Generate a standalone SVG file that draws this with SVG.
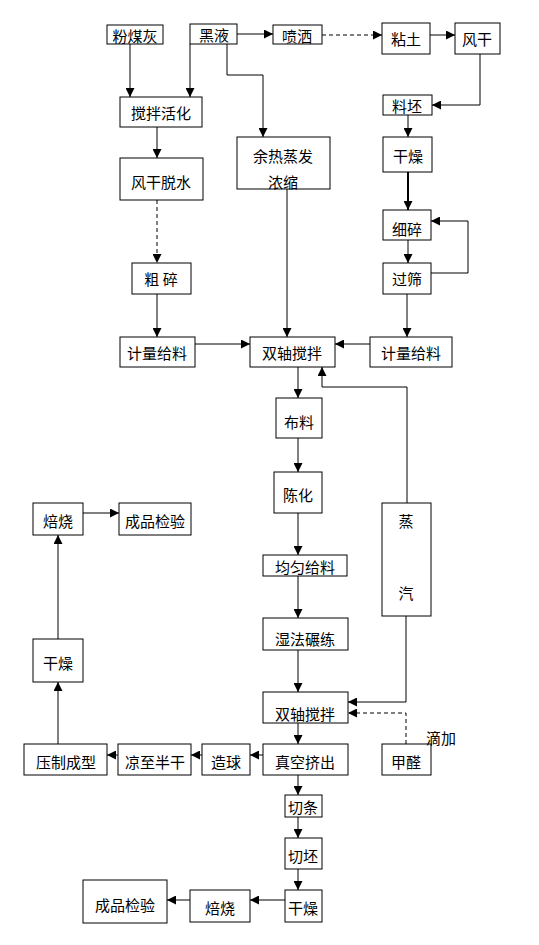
<svg xmlns="http://www.w3.org/2000/svg" width="539" height="945" viewBox="0 0 539 945">
<style>
rect{fill:#fff;stroke:#000;stroke-width:1}
text{font-family:"Noto Sans CJK SC","Liberation Sans",sans-serif;font-size:15px;fill:#000;text-anchor:middle;dominant-baseline:central}
.c path{fill:none;stroke:#000;stroke-width:1;marker-end:url(#a)}
.c .d{stroke-dasharray:4 3}
.c .t{stroke-width:2}
</style>
<defs>
<marker id="a" markerWidth="9" markerHeight="9" refX="9" refY="4.5" orient="auto" markerUnits="userSpaceOnUse"><path d="M0,0 L9,4.5 L0,9 z" fill="#000"/></marker>
</defs>
<rect width="539" height="945" style="fill:#fff;stroke:none"/>
<g class="c" id="connectors">
<path d="M130,44 V97"/>
<path d="M190,44 V97"/>
<path d="M237,34 H273"/>
<path d="M227,44 V75 H263 V137"/>
<path class="d" d="M322,35 H382"/>
<path d="M430,35 H455"/>
<path d="M480,54 V105 H432"/>
<path d="M408,115 V137"/>
<path class="t" d="M408,172 V210"/>
<path d="M408,240 V263"/>
<path d="M431,273 H468 V221 H431"/>
<path d="M407,294 V337"/>
<path d="M370,344 H335"/>
<path d="M195,344 H250"/>
<path d="M287,189 V337"/>
<path d="M157,127 V158"/>
<path class="d" d="M157,200 V263"/>
<path d="M157,294 V337"/>
<path d="M298,367 V398"/>
<path d="M298,438 V472"/>
<path d="M298,513 V555"/>
<path d="M298,576 V618"/>
<path d="M298,650 V692"/>
<path d="M298,723 V744"/>
<path d="M407,503 V387 H322 V367"/>
<path d="M406,616 V702 H348"/>
<path class="d" d="M406,744 V713 H348"/>
<path d="M263,755 H250"/>
<path d="M202,755 H191"/>
<path d="M118,755 H107"/>
<path d="M58,744 V682"/>
<path d="M58,639 V535"/>
<path d="M83,513 H119"/>
<path d="M298,775 V795"/>
<path d="M298,817 V838"/>
<path d="M298,869 V890"/>
<path d="M285,900 H250"/>
<path d="M190,900 H167"/>
</g>
<g id="n1"><rect x="107" y="25" width="56" height="19"/><text x="135" y="35">粉煤灰</text></g>
<g id="n2"><rect x="190" y="24" width="47" height="20"/><text x="214" y="34">黑液</text></g>
<g id="n3"><rect x="273" y="25" width="49" height="19"/><text x="297" y="35">喷洒</text></g>
<g id="n4"><rect x="382" y="23" width="48" height="31"/><text x="406" y="38">粘土</text></g>
<g id="n5"><rect x="455" y="23" width="45" height="31"/><text x="477" y="38">风干</text></g>
<g id="n6"><rect x="120" y="97" width="82" height="30"/><text x="161" y="112">搅拌活化</text></g>
<g id="n7"><rect x="237" y="137" width="93" height="52"/><text x="283" y="155">余热蒸发</text><text x="283" y="181">浓缩</text></g>
<g id="n8"><rect x="383" y="95" width="49" height="20"/><text x="407" y="105">料坯</text></g>
<g id="n9"><rect x="383" y="137" width="49" height="35"/><text x="408" y="155">干燥</text></g>
<g id="n10"><rect x="383" y="210" width="48" height="30"/><text x="407" y="228">细碎</text></g>
<g id="n11"><rect x="383" y="263" width="48" height="31"/><text x="407" y="278">过筛</text></g>
<g id="n12"><rect x="120" y="158" width="83" height="42"/><text x="161" y="181">风干脱水</text></g>
<g id="n13"><rect x="132" y="263" width="59" height="31"/><text x="161" y="278">粗 碎</text></g>
<g id="n14"><rect x="120" y="337" width="75" height="30"/><text x="157" y="352">计量给料</text></g>
<g id="n15"><rect x="250" y="337" width="85" height="30"/><text x="292" y="352">双轴搅拌</text></g>
<g id="n16"><rect x="370" y="337" width="82" height="30"/><text x="411" y="352">计量给料</text></g>
<g id="n17"><rect x="276" y="398" width="46" height="40"/><text x="299" y="421">布料</text></g>
<g id="n18"><rect x="274" y="472" width="48" height="41"/><text x="298" y="494">陈化</text></g>
<g id="n19"><rect x="263" y="555" width="84" height="21"/><text x="305" y="566">均匀给料</text></g>
<g id="n20"><rect x="263" y="618" width="85" height="32"/><text x="305" y="638">湿法碾练</text></g>
<g id="n21"><rect x="263" y="692" width="85" height="31"/><text x="305" y="713">双轴搅拌</text></g>
<g id="n22"><rect x="263" y="744" width="85" height="31"/><text x="305" y="761">真空挤出</text></g>
<g id="n23"><rect x="382" y="503" width="49" height="113"/><text x="406" y="520">蒸</text><text x="406" y="592">汽</text></g>
<g id="n24"><rect x="382" y="744" width="49" height="31"/><text x="406" y="761">甲醛</text></g>
<g id="n25"><text x="441" y="737">滴加</text></g>
<g id="n26"><rect x="202" y="744" width="48" height="31"/><text x="226" y="761">造球</text></g>
<g id="n27"><rect x="118" y="744" width="73" height="31"/><text x="155" y="761">凉至半干</text></g>
<g id="n28"><rect x="24" y="744" width="83" height="31"/><text x="66" y="761">压制成型</text></g>
<g id="n29"><rect x="33" y="639" width="50" height="43"/><text x="58" y="662">干燥</text></g>
<g id="n30"><rect x="33" y="503" width="50" height="32"/><text x="58" y="520">焙烧</text></g>
<g id="n31"><rect x="119" y="503" width="72" height="32"/><text x="155" y="520">成品检验</text></g>
<g id="n32"><rect x="285" y="795" width="37" height="22"/><text x="303" y="806">切条</text></g>
<g id="n33"><rect x="285" y="838" width="37" height="31"/><text x="303" y="855">切坯</text></g>
<g id="n34"><rect x="285" y="890" width="37" height="32"/><text x="303" y="907">干燥</text></g>
<g id="n35"><rect x="190" y="890" width="60" height="32"/><text x="220" y="907">焙烧</text></g>
<g id="n36"><rect x="83" y="880" width="84" height="43"/><text x="125" y="904">成品检验</text></g>
</svg>
